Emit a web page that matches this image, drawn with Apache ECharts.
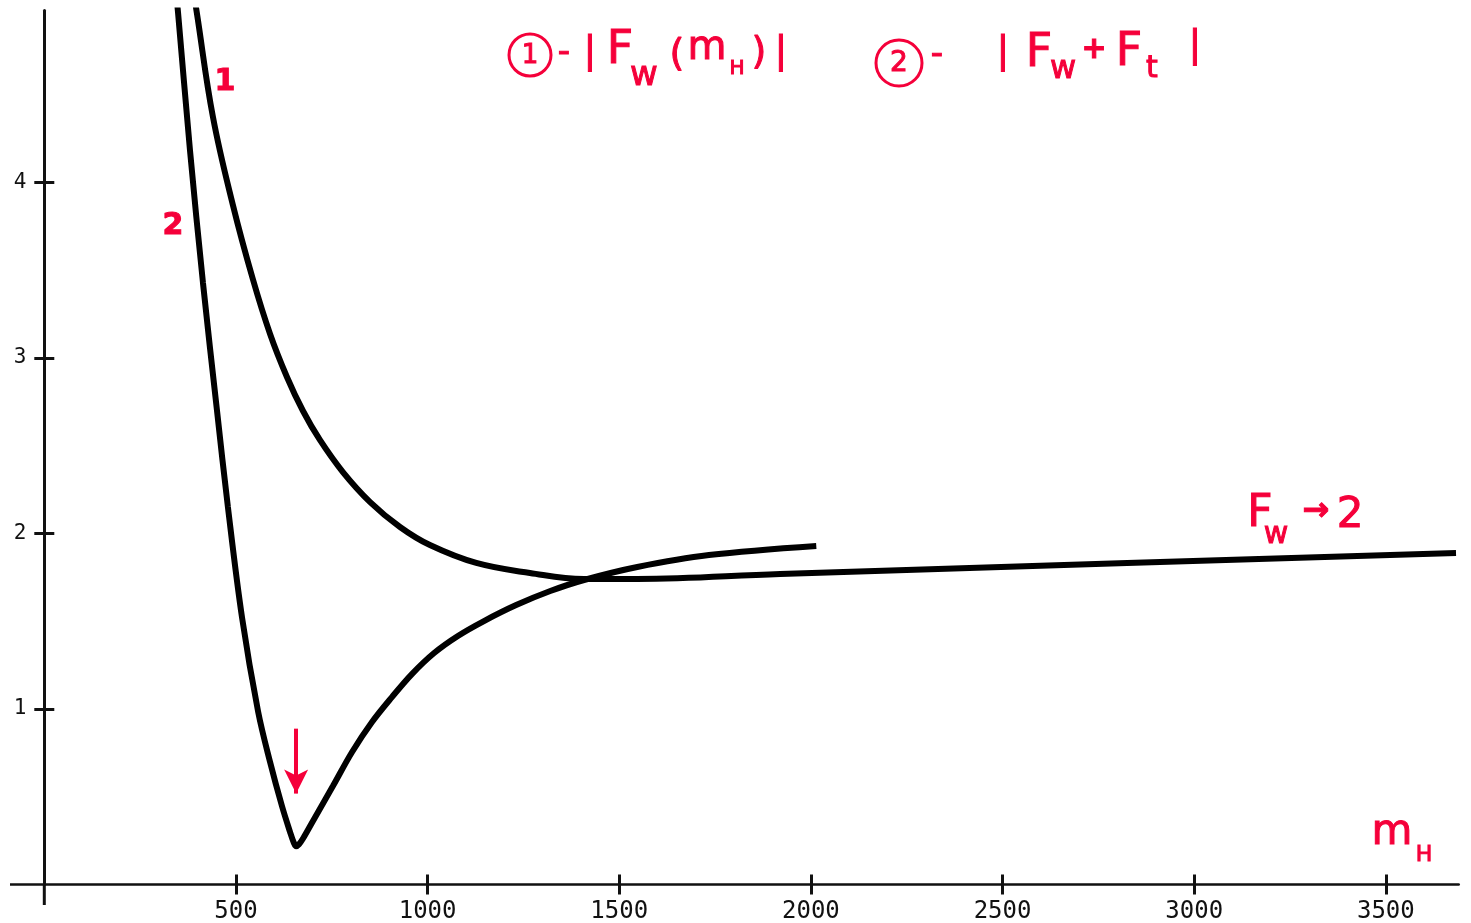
<!DOCTYPE html>
<html>
<head>
<meta charset="utf-8">
<script src="https://cdn.jsdelivr.net/npm/echarts@6/dist/echarts.min.js"></script>
<style>
html,body{margin:0;padding:0;background:#fff;}
#chart{width:1471px;height:923px;}
</style>
</head>
<body>
<div id="chart"></div>
<script>
// ---- data ----
const xTicks = [500, 1000, 1500, 2000, 2500, 3000, 3500];
const yTicks = [1, 2, 3, 4];

// curve 1 : |F_w(m_H)|
const curve1X = [380, 398, 440, 492, 544, 589, 633, 675, 719, 779, 850, 928, 1006, 1127, 1267, 1408, 1546, 1920, 2825, 3683];
const curve1Y = [5.22, 4.966, 4.373, 3.872, 3.45, 3.137, 2.892, 2.698, 2.533, 2.35, 2.179, 2.037, 1.934, 1.832, 1.775, 1.741, 1.741, 1.769, 1.832, 1.889];

// curve 2 : |F_w + F_t|
const curve2X = [333, 349, 380, 414, 451, 479, 516, 558, 589, 620, 641, 651, 657, 664, 675, 701, 753, 803, 855, 907, 959, 1017, 1079, 1147, 1231, 1320, 1408, 1547, 1734, 2014];
const curve2Y = [5.34, 4.966, 4.185, 3.427, 2.692, 2.151, 1.519, 0.983, 0.698, 0.447, 0.30, 0.238, 0.218, 0.228, 0.262, 0.362, 0.561, 0.755, 0.926, 1.068, 1.199, 1.319, 1.416, 1.501, 1.592, 1.672, 1.735, 1.809, 1.877, 1.929];

const RED = '#f5003a';
const INK = '#111';

const zip = (xs, ys) => xs.map((x, i) => [x, ys[i]]);
const d1 = zip(curve1X, curve1Y);
const d2 = zip(curve2X, curve2Y);

// minimum of curve 2 (for the arrow)
let minPt = d2[0];
d2.forEach(p => { if (p[1] < minPt[1]) minPt = p; });

function T(x, y, text, size, weight) {
  return {
    type: 'text', x: x, y: y, silent: true,
    style: {
      text: text, fill: RED, stroke: RED, lineWidth: 1,
      font: (weight || 'normal') + ' ' + size + 'px "DejaVu Sans"',
      align: 'center', verticalAlign: 'middle',
      textAlign: 'center', textVerticalAlign: 'middle'
    }
  };
}
function C(cx, cy, r) {
  return { type: 'circle', silent: true, shape: { cx: cx, cy: cy, r: r },
    style: { fill: 'none', stroke: RED, lineWidth: 3 } };
}
function L(x1, y1, x2, y2, w) {
  return { type: 'line', silent: true, shape: { x1: x1, y1: y1, x2: x2, y2: y2 },
    style: { stroke: INK, lineWidth: w } };
}

const xCommon = { type: 'value', min: 0, max: 3690, position: 'bottom', splitLine: { show: false } };
const yCommon = { type: 'value', min: 0, max: 4.98, position: 'left', splitLine: { show: false } };

const chart = echarts.init(document.getElementById('chart'));
chart.setOption({
  animation: false,
  backgroundColor: '#fff',
  grid: { left: 44.3, right: 12.3, top: 10.5, bottom: 38.5, containLabel: false, outerBoundsMode: 'none' },
  xAxis: [
    Object.assign({}, xCommon, {
      axisLine: { onZero: false, lineStyle: { color: INK, width: 2.5 } },
      axisTick: { customValues: xTicks, length: 10, lineStyle: { color: INK, width: 3 } },
      axisLabel: { customValues: xTicks, margin: 15, color: INK,
        formatter: v => String(v),
        fontFamily: 'DejaVu Sans Mono', fontSize: 24 }
    }),
    Object.assign({}, xCommon, {
      axisLine: { show: false, onZero: false },
      axisTick: { inside: true, customValues: xTicks, length: 10, lineStyle: { color: INK, width: 3 } },
      axisLabel: { show: false }
    })
  ],
  yAxis: [
    Object.assign({}, yCommon, {
      axisLine: { onZero: false, lineStyle: { color: INK, width: 3 } },
      axisTick: { customValues: yTicks, length: 10, lineStyle: { color: INK, width: 3 } },
      axisLabel: { customValues: yTicks, margin: 18, color: INK,
        formatter: v => String(v),
        fontFamily: 'DejaVu Sans Mono', fontSize: 21 }
    }),
    Object.assign({}, yCommon, {
      axisLine: { show: false, onZero: false },
      axisTick: { inside: true, customValues: yTicks, length: 10, lineStyle: { color: INK, width: 3 } },
      axisLabel: { show: false }
    })
  ],
  series: [
    {
      name: '|Fw(mH)|', type: 'line', xAxisIndex: 0, yAxisIndex: 0,
      data: d1, smooth: 0.4, showSymbol: false, clip: true, silent: true,
      lineStyle: { color: '#000', width: 6 }
    },
    {
      name: '|Fw+Ft|', type: 'line', xAxisIndex: 0, yAxisIndex: 0,
      data: d2, smooth: 0.35, showSymbol: false, clip: true, silent: true,
      lineStyle: { color: '#000', width: 6 },
      markLine: {
        silent: true, symbol: ['none', 'arrow'], symbolSize: [18, 24],
        label: { show: false },
        lineStyle: { color: RED, width: 4, type: 'solid' },
        data: [[{ coord: [minPt[0], minPt[1] + 0.67] }, { coord: [minPt[0], minPt[1] + 0.30] }]]
      }
    }
  ],
  graphic: [
    // axis stubs beyond the origin
    L(10, 884.5, 44.3, 884.5, 2.5),
    L(44.3, 884.5, 44.3, 905, 3),
    // legend note 1
    C(530, 55, 21), T(530, 56, '1', 26),
    T(564, 53, '-', 34),
    T(590, 52, '|', 38),
    T(620, 51, 'F', 46),
    T(644, 76, 'w', 34),
    T(677, 55, '(', 38),
    T(707, 49, 'm', 40),
    T(737, 69, 'H', 20),
    T(759, 53, ')', 38),
    T(781, 52, '|', 38),
    // legend note 2
    C(899, 63, 23), T(899, 64, '2', 28),
    T(937, 55, '-', 34),
    T(1003, 52, '|', 38),
    T(1039, 54, 'F', 46),
    T(1063, 70, 'w', 32),
    T(1094, 50, '+', 30, 'bold'),
    T(1129, 53, 'F', 46),
    T(1152, 69, 't', 30),
    T(1195, 46, '|', 38),
    // curve labels
    T(225, 82, '1', 30, 'bold'),
    T(173, 226, '2', 30, 'bold'),
    // asymptote note
    T(1260, 515, 'F', 44),
    T(1276, 535, 'w', 30),
    T(1316, 512, '→', 32, 'bold'),
    T(1350, 516, '2', 42),
    // axis title
    T(1392, 833, 'm', 42),
    T(1424, 855, 'H', 22)
  ]
});
</script>
</body>
</html>
